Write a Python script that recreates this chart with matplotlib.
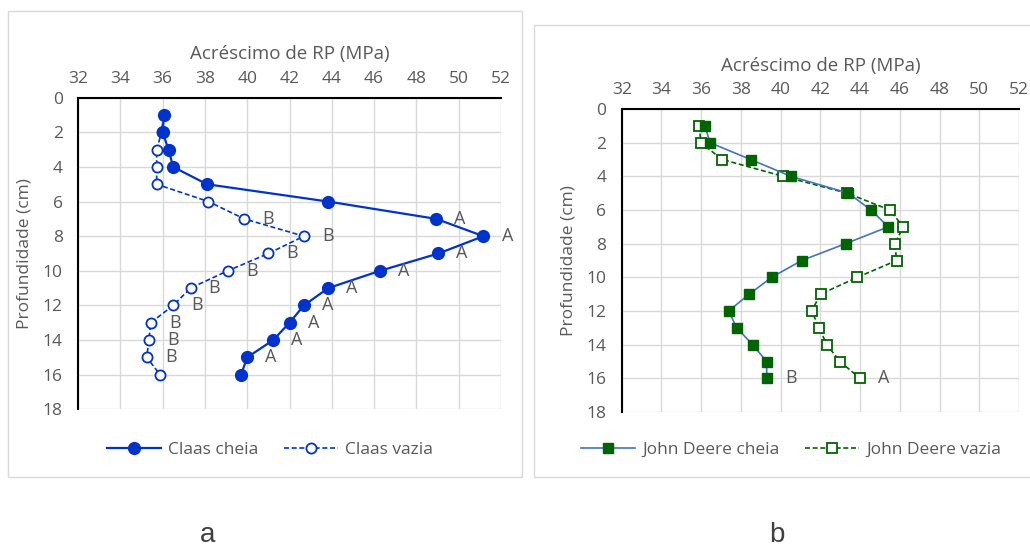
import matplotlib
matplotlib.use("Agg")
import matplotlib.pyplot as plt
from matplotlib.patches import Rectangle

plt.rcParams['font.family'] = ['Open Sans', 'DejaVu Sans']

depth = list(range(1, 17))

claas_cheia = [36.07, 36.0, 36.28, 36.5, 38.1, 43.83, 48.94, 51.17,
               49.04, 46.28, 43.83, 42.68, 42.0, 41.23, 40.0, 39.71]
claas_vazia = [36.05, 35.95, 35.72, 35.72, 35.72, 38.17, 39.86, 42.68,
               41.0, 39.08, 37.32, 36.5, 35.44, 35.35, 35.25, 35.88]
claas_cheia_lab = [''] * 6 + ['A'] * 9 + ['']
claas_vazia_lab = [''] * 6 + ['B'] * 9 + ['']

jd_cheia = [36.19, 36.44, 38.49, 40.52, 43.41, 44.55, 45.42, 43.27,
            41.06, 39.55, 38.42, 37.38, 37.79, 38.59, 39.30, 39.30]
jd_vazia = [35.91, 35.98, 37.06, 40.13, 43.35, 45.5, 46.17, 45.75,
            45.84, 43.86, 42.01, 41.56, 41.95, 42.32, 42.99, 43.99]
jd_cheia_lab = [''] * 15 + ['B']
jd_vazia_lab = [''] * 15 + ['A']

xticks = list(range(32, 53, 2))
yticks = list(range(0, 19, 2))

GRAY = '#595959'
BLUE = '#0033CC'
GREEN = '#006400'

fig = plt.figure(figsize=(10.3, 5.46), dpi=100)

# chart frames
fig.patches.append(Rectangle((8/1030, 1-477/546), 514/1030, 466/546,
                             transform=fig.transFigure, fill=False,
                             edgecolor='#D9D9D9', linewidth=1))
fig.patches.append(Rectangle((534/1030, 1-477/546), 500/1030, 452/546,
                             transform=fig.transFigure, fill=False,
                             edgecolor='#D9D9D9', linewidth=1))


def style_axes(ax):
    ax.set_xlim(32, 52)
    ax.set_ylim(18, 0)
    ax.set_xticks(xticks)
    ax.set_yticks(yticks)
    ax.xaxis.tick_top()
    ax.xaxis.set_label_position('top')
    ax.tick_params(length=0, labelsize=12.5, labelcolor=GRAY)
    ax.tick_params(axis='x', pad=8)
    ax.tick_params(axis='y', pad=11)
    ax.grid(color='#D9D9D9', linewidth=1)
    ax.set_axisbelow(True)
    for s in ['right', 'bottom']:
        ax.spines[s].set_visible(False)
    for s in ['top', 'left']:
        ax.spines[s].set_color('black')
        ax.spines[s].set_linewidth(1.5)
    ax.set_xlabel('Acréscimo de RP (MPa)', fontsize=13.5, color=GRAY, labelpad=8)
    ax.set_ylabel('Profundidade (cm)', fontsize=12.5, color=GRAY, labelpad=7)


def put_labels(ax, xs, labs):
    for x, d, t in zip(xs, depth, labs):
        if t:
            ax.annotate(t, (x, d), xytext=(13, 0), textcoords='offset points',
                        ha='left', va='center', fontsize=13, color=GRAY)


# a
ax1 = fig.add_axes([78/1030, 1-409.3/546, 423/1030, 311.6/546])
style_axes(ax1)
ax1.plot(claas_cheia, depth, '-o', color=BLUE, linewidth=1.6, markersize=8.5,
         label='Claas cheia', zorder=3)
ax1.plot(claas_vazia, depth, '--o', color=BLUE, linewidth=1.2, markersize=7.3,
         markerfacecolor='white', markeredgewidth=1.3, dashes=(3, 1.6),
         label='Claas vazia', zorder=2)
put_labels(ax1, claas_cheia, claas_cheia_lab)
put_labels(ax1, claas_vazia, claas_vazia_lab)
leg1 = ax1.legend(loc='center', bbox_to_anchor=(270/1030, 1-450/546),
                  bbox_transform=fig.transFigure, ncol=2, frameon=False,
                  fontsize=12.5, handlelength=3.1, handletextpad=0.4,
                  columnspacing=1.5)
for t in leg1.get_texts():
    t.set_color(GRAY)

# b
ax2 = fig.add_axes([621.7/1030, 1-412/546, 397.3/1030, 303/546])
style_axes(ax2)
ax2.plot(jd_cheia, depth, '-s', color='#4472C4', linewidth=1.2,
         markersize=7.7, markerfacecolor=GREEN, markeredgecolor=GREEN,
         label='John Deere cheia', zorder=3)
ax2.plot(jd_vazia, depth, '--s', color=GREEN, linewidth=1.2, markersize=6.7,
         markerfacecolor='white', markeredgecolor=GREEN, markeredgewidth=1.3,
         dashes=(3, 1.6), label='John Deere vazia', zorder=2)
put_labels(ax2, jd_cheia, jd_cheia_lab)
put_labels(ax2, jd_vazia, jd_vazia_lab)
leg2 = ax2.legend(loc='center', bbox_to_anchor=(791/1030, 1-450/546),
                  bbox_transform=fig.transFigure, ncol=2, frameon=False,
                  fontsize=12.5, handlelength=3.1, handletextpad=0.4,
                  columnspacing=1.5)
for t in leg2.get_texts():
    t.set_color(GRAY)

fig.text(208/1030, 1-535/546, 'a', fontsize=20, color='#404040',
         family='Liberation Sans', ha='center', va='center')
fig.text(777/1030, 1-535/546, 'b', fontsize=20, color='#404040',
         family='Liberation Sans', ha='center', va='center')

fig.savefig('out.png', dpi=100)
